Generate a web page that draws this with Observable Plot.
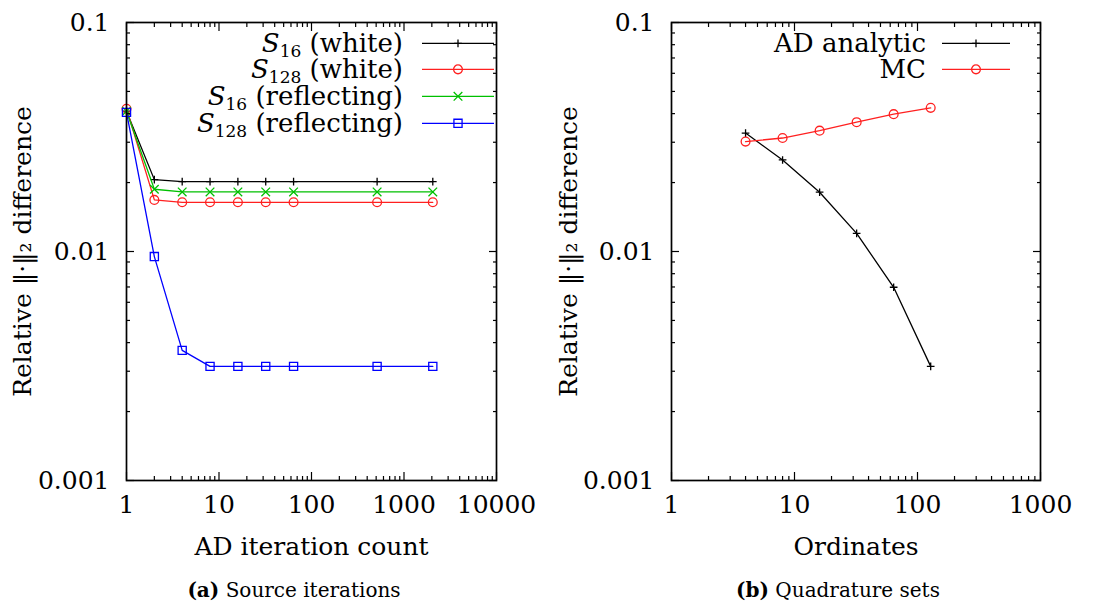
<!DOCTYPE html>
<html>
<head>
<meta charset="utf-8">
<script src="https://cdn.jsdelivr.net/npm/d3@7"></script>
<script src="https://cdn.jsdelivr.net/npm/@observablehq/plot@0.6"></script>
<style>
  body { margin: 0; background: white; }
  #wrap { position: relative; width: 1110px; height: 605px; overflow: hidden; background: white; font-family: "DejaVu Serif", serif; color: black; }
  .panel { position: absolute; top: 0; }
  .legend { position: absolute; font-size: 26px; }
  .legend .row { display: flex; justify-content: flex-end; align-items: center; height: 26.7px; }
  .legend .row span.t { display: inline-block; height: 26.7px; line-height: 26.7px; white-space: nowrap; overflow: visible; }
  .legend sub { font-size: 17px; vertical-align: -5px; line-height: 0; }
  .legend svg { display: block; }
  .caption { position: absolute; top: 580px; font-size: 20px; line-height: 20px; white-space: nowrap; transform: translateX(-50%); }
</style>
</head>
<body>
<div id="wrap"></div>
<script>
// ---- data: panel (a) Source iterations ----
const iterCounts = [1, 2, 4, 8, 16, 32, 64, 512, 2048];
const s16White   = [0.041, 0.0206, 0.0202, 0.0202, 0.0202, 0.0202, 0.0202, 0.0202, 0.0202];
const s128White  = [0.042, 0.0168, 0.0164, 0.0164, 0.0164, 0.0164, 0.0164, 0.0164, 0.0164];
const s16Refl    = [0.041, 0.0187, 0.0182, 0.0182, 0.0182, 0.0182, 0.0182, 0.0182, 0.0182];
const s128Refl   = [0.0405, 0.0095, 0.0037, 0.00315, 0.00315, 0.00315, 0.00315, 0.00315, 0.00315];

// ---- data: panel (b) Quadrature sets ----
const ordinates  = [4, 8, 16, 32, 64, 128];
const adAnalytic = [0.0329, 0.0251, 0.01815, 0.0120, 0.00698, 0.00315];
const mcValues   = [0.0302, 0.0313, 0.0337, 0.0367, 0.0398, 0.0424];

// ---- tick labels ----
const xTicksA = [1, 10, 100, 1000, 10000];
const xTicksB = [1, 10, 100, 1000];
const yTicks  = [0.001, 0.01, 0.1];
const minorMultipliers = [2, 3, 4, 5, 6, 7, 8, 9];

const yLabel = "Relative \u2016\u00b7\u2016\u2082 difference";

function minorTicks(majors) {
  return majors.slice(0, -1).flatMap(m => minorMultipliers.map(k => +(k * m).toPrecision(6)));
}

function frameTicks(xMajor, yMajor) {
  const xMin = minorTicks(xMajor), yMin = minorTicks(yMajor);
  const blank = () => "";
  const o = {tickFormat: blank, label: null, strokeWidth: 1.2};
  return [
    Plot.axisX(xMajor, {...o, anchor: "bottom", tickSize: -8}),
    Plot.axisX(xMajor, {...o, anchor: "top", tickSize: -8}),
    Plot.axisX(xMin, {...o, anchor: "bottom", tickSize: -4}),
    Plot.axisX(xMin, {...o, anchor: "top", tickSize: -4}),
    Plot.axisY(yMajor, {...o, anchor: "left", tickSize: -8}),
    Plot.axisY(yMajor, {...o, anchor: "right", tickSize: -8}),
    Plot.axisY(yMin, {...o, anchor: "left", tickSize: -4}),
    Plot.axisY(yMin, {...o, anchor: "right", tickSize: -4})
  ];
}

function seriesMarks(xs, ys, color, symbol, r) {
  const rows = xs.map((x, i) => ({x, y: ys[i]}));
  return [
    Plot.line(rows, {x: "x", y: "y", stroke: color, strokeWidth: 1.3}),
    Plot.dot(rows, {x: "x", y: "y", stroke: color, fill: "none", symbol, r, strokeWidth: 1.3})
  ];
}

const seriesA = [
  {label: ["S", "16", " (white)"], xs: iterCounts, ys: s16White, color: "#000000", symbol: "plus", r: 2.6},
  {label: ["S", "128", " (white)"], xs: iterCounts, ys: s128White, color: "#ff2020", symbol: "circle", r: 4.4},
  {label: ["S", "16", " (reflecting)"], xs: iterCounts, ys: s16Refl, color: "#00c000", symbol: "times", r: 4},
  {label: ["S", "128", " (reflecting)"], xs: iterCounts, ys: s128Refl, color: "#0000ff", symbol: "square", r: 4.6}
];
const seriesB = [
  {label: [null, null, "AD analytic"], xs: ordinates, ys: adAnalytic, color: "#000000", symbol: "plus", r: 2.6},
  {label: [null, null, "MC"], xs: ordinates, ys: mcValues, color: "#ff2020", symbol: "circle", r: 4.4}
];

function makePanel({series, xDomain, xTicks, xLabel, marginLeft, marginRight, yLabelOffset}) {
  return Plot.plot({
    width: 555,
    height: 566,
    marginLeft, marginRight,
    marginTop: 22,
    marginBottom: 86,
    x: {type: "log", domain: xDomain, axis: null},
    y: {type: "log", domain: [0.001, 0.1], axis: null},
    style: {fontFamily: "DejaVu Serif, serif", fontSize: "25px", color: "black", background: "white", overflow: "visible"},
    marks: [
      ...series.flatMap(s => seriesMarks(s.xs, s.ys, s.color, s.symbol, s.r)),
      ...frameTicks(xTicks, yTicks),
      Plot.axisX(xTicks, {anchor: "bottom", tickSize: 0, tickPadding: 15, tickFormat: d => String(d),
        label: xLabel, labelAnchor: "center", labelOffset: 74, labelArrow: "none"}),
      Plot.axisY(yTicks, {anchor: "left", tickSize: 0, tickPadding: 17, tickFormat: d => String(d),
        label: yLabel, labelAnchor: "center", labelOffset: yLabelOffset, labelArrow: "none"}),
      Plot.frame({stroke: "black", strokeWidth: 1.7})
    ]
  });
}

const wrap = document.getElementById("wrap");

function addPanel(left, opts) {
  const div = document.createElement("div");
  div.className = "panel";
  div.style.left = left + "px";
  div.appendChild(makePanel(opts));
  wrap.appendChild(div);
}

addPanel(0, {series: seriesA, xDomain: [1, 10000], xTicks: xTicksA, xLabel: "AD iteration count", marginLeft: 126, marginRight: 59, yLabelOffset: 113});
addPanel(555, {series: seriesB, xDomain: [1, 1000], xTicks: xTicksB, xLabel: "Ordinates", marginLeft: 116, marginRight: 70, yLabelOffset: 112});

function addLegend(series, rightPx, gap, swatchW) {
  const lg = document.createElement("div");
  lg.className = "legend";
  lg.style.right = rightPx + "px";
  lg.style.top = "29.6px";
  for (const s of series) {
    const row = document.createElement("div");
    row.className = "row";
    const span = document.createElement("span");
    span.className = "t";
    const [ital, sub, rest] = s.label;
    if (ital) { const i = document.createElement("i"); i.textContent = ital; span.appendChild(i); }
    if (sub) { const b = document.createElement("sub"); b.textContent = sub; span.appendChild(b); }
    span.appendChild(document.createTextNode(rest));
    row.appendChild(span);
    const svg = d3.create("svg").attr("width", swatchW).attr("height", 26.7).style("margin-left", gap + "px");
    svg.append("line").attr("x1", 0).attr("x2", swatchW).attr("y1", 13.35).attr("y2", 13.35)
      .attr("stroke", s.color).attr("stroke-width", 1.3);
    const symMap = {plus: d3.symbolPlus, circle: d3.symbolCircle, times: d3.symbolTimes, square: d3.symbolSquare};
    svg.append("path").attr("transform", `translate(${swatchW / 2},13.35)`)
      .attr("d", d3.symbol(symMap[s.symbol], s.r * s.r * Math.PI)())
      .attr("fill", "none").attr("stroke", s.color).attr("stroke-width", 1.3);
    row.appendChild(svg.node());
    lg.appendChild(row);
  }
  wrap.appendChild(lg);
}
addLegend(seriesA, 1110 - 494, 19, 72);
addLegend(seriesB, 1110 - 1010, 16, 68);

function addCaption(cx, bold, text) {
  const c = document.createElement("div");
  c.className = "caption";
  c.style.left = cx + "px";
  const b = document.createElement("b");
  b.textContent = bold;
  c.appendChild(b);
  c.appendChild(document.createTextNode(" " + text));
  wrap.appendChild(c);
}
addCaption(294, "(a)", "Source iterations");
addCaption(838, "(b)", "Quadrature sets");
</script>
</body>
</html>
